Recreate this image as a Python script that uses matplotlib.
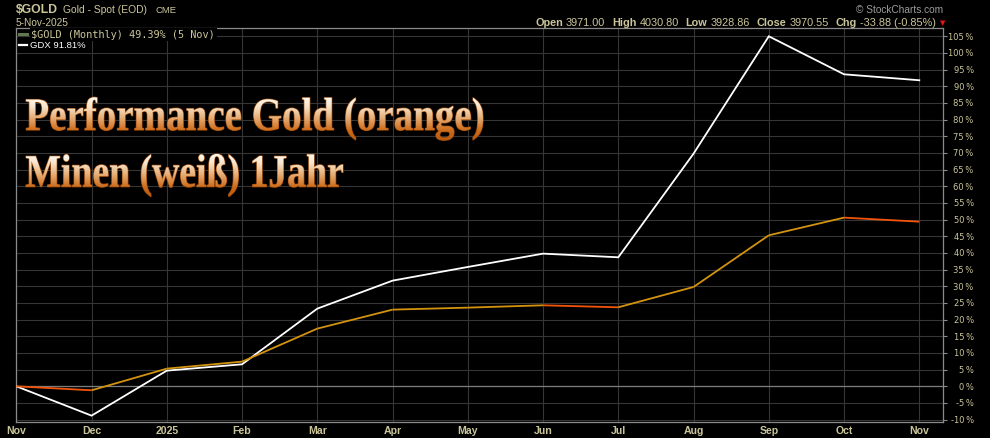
import numpy as np
import matplotlib
matplotlib.use("Agg")
import matplotlib.pyplot as plt
from matplotlib.patheffects import AbstractPathEffect
from matplotlib.transforms import Affine2D, TransformedPath
from matplotlib.lines import Line2D

# ---------------- data ----------------
months = ['Nov', 'Dec', '2025', 'Feb', 'Mar', 'Apr', 'May', 'Jun', 'Jul', 'Aug', 'Sep', 'Oct', 'Nov']
gold = [0.0, -1.2, 5.3, 7.4, 17.3, 23.0, 23.6, 24.3, 23.7, 29.8, 45.3, 50.6, 49.39]
gdx = [0.0, -8.8, 4.7, 6.6, 23.3, 31.7, 35.8, 39.8, 38.7, 69.8, 105.0, 93.6, 91.81]
y_ticks = list(range(-10, 110, 5))
y_labels = [f"{v}\u2009%" for v in y_ticks]
title_lines = ['Performance Gold (orange)', 'Minen (weiß) 1Jahr']
hdr_labels = ['Open', 'High', 'Low', 'Close', 'Chg']
hdr_values = ['3971.00', '4030.80', '3928.86', '3970.55', '-33.88 (-0.85%)']

# ---------------- style ----------------
W, H = 990, 438
KHAKI = '#cbc69a'
GRID = '#363636'
FRAME = '#8a8a8a'
UP = '#d4930f'
DOWN = '#f2540a'


def fx(x):
    return x / W


def fy(y):
    return 1 - y / H


class GradientText(AbstractPathEffect):
    """Fill text glyphs with a vertical gradient, squeezed to a target width."""

    def __init__(self, xfrac, wfrac, pos, cols, edge='#9a4806', edge_lw=0.9):
        super().__init__()
        self.xfrac, self.wfrac = xfrac, wfrac
        self.pos = pos
        self.cols = np.array(cols, float)
        self.edge, self.edge_lw = edge, edge_lw

    def draw_path(self, renderer, gc, tpath, affine, rgbFace=None):
        ext0 = tpath.get_extents(affine)
        fw = renderer.width
        sx = self.wfrac * fw / ext0.width
        aff = affine + Affine2D().translate(-ext0.x0, 0).scale(sx, 1).translate(self.xfrac * fw, 0)
        bx, by = affine.transform((0.0, 0.0))
        ext = tpath.get_extents(aff)
        # outline
        g1 = renderer.new_gc()
        g1.copy_properties(gc)
        g1.set_linewidth(self.edge_lw)
        g1.set_foreground(self.edge)
        renderer.draw_path(g1, tpath, aff, None)
        g1.restore()
        # gradient (row 0 = bottom in display space)
        x0 = int(np.floor(ext.x0)) - 2
        x1 = int(np.ceil(ext.x1)) + 2
        y0 = int(np.floor(ext.y0)) - 2
        y1 = int(np.ceil(ext.y1)) + 2
        h, w = y1 - y0, x1 - x0
        rows_y = y0 + np.arange(h) + 0.5
        t = (ext.y1 - rows_y) / (ext.y1 - by)
        rgb = np.stack([np.interp(t, self.pos, self.cols[:, k]) for k in range(3)], axis=1)
        img = np.empty((h, w, 4), np.uint8)
        img[..., :3] = rgb[:, None, :].astype(np.uint8)
        img[..., 3] = 255
        g2 = renderer.new_gc()
        g2.copy_properties(gc)
        g2.set_clip_path(TransformedPath(tpath, aff))
        renderer.draw_image(g2, x0, y0, np.ascontiguousarray(img))
        g2.restore()


fig = plt.figure(figsize=(W / 100, H / 100), dpi=100, facecolor='black')
L, R, T, B = 16.3, 943.3, 28.3, 421.7
ax = fig.add_axes([fx(L), fy(B), (R - L) / W, (B - T) / H])
ax.set_facecolor('black')

x = np.arange(len(months))
ax.set_xlim(0, (R - L) / 75.25)
ax.set_ylim(-10.62, 107.4)

# grid
ax.set_yticks(y_ticks)
ax.set_yticklabels(y_labels)
ax.set_xticks(x)
ax.set_xticklabels(months)
ax.grid(True, color=GRID, lw=0.8, zorder=0)
ax.set_axisbelow(True)
ax.axhline(0, color='#7c7c7c', lw=0.9, zorder=1)

for s in ax.spines.values():
    s.set_color(FRAME)
    s.set_linewidth(0.9)

ax.yaxis.tick_right()
ax.tick_params(axis='y', colors=FRAME, labelcolor=KHAKI, length=2.7, width=0.8,
               labelsize=6, pad=19.2)
for lab in ax.get_yticklabels():
    lab.set_horizontalalignment('right')
    lab.set_family('DejaVu Sans')
ax.tick_params(axis='x', length=0, labelcolor=KHAKI, labelsize=7.6, pad=2.8)
for lab in ax.get_xticklabels():
    lab.set_family('Liberation Sans')
    lab.set_fontweight('bold')

# lines
ax.plot(x, gdx, color='white', lw=1.3, zorder=3, solid_joinstyle='miter')
for i in range(len(gold) - 1):
    c = UP if gold[i + 1] >= gold[i] else DOWN
    ax.plot(x[i:i + 2], gold[i:i + 2], color=c, lw=1.3, zorder=4, solid_capstyle='butt')

# ---------------- header ----------------
fig.text(fx(16), fy(12.7), '$GOLD', color=KHAKI, fontsize=8.8, weight='bold',
         family='Liberation Sans', va='baseline')
fig.text(fx(63), fy(12.7), 'Gold - Spot (EOD)', color=KHAKI, fontsize=7.4,
         family='Liberation Sans', va='baseline')
fig.text(fx(155), fy(12.7), 'CME', color=KHAKI, fontsize=6.8,
         family='Liberation Sans', va='baseline')
fig.text(fx(16), fy(25.7), '5-Nov-2025', color=KHAKI, fontsize=7.3,
         family='Liberation Sans', va='baseline')
fig.text(fx(943), fy(12.7), '\u00a9 StockCharts.com', color='#9c9c9c', fontsize=7.3,
         family='Liberation Sans', va='baseline', ha='right')

prev = fig.text(fx(535), fy(26), hdr_labels[0], color=KHAKI, fontsize=7.8, weight='bold',
                family='Liberation Sans', va='baseline')
for i, (lb, val) in enumerate(zip(hdr_labels, hdr_values)):
    if i > 0:
        prev = ax.annotate(lb, xy=(1, 0), xycoords=prev, xytext=(5, 0), textcoords='offset points',
                           color=KHAKI, fontsize=7.8, weight='bold', family='Liberation Sans',
                           va='bottom', annotation_clip=False)
    prev = ax.annotate(val, xy=(1, 0), xycoords=prev, xytext=(2.2, 0), textcoords='offset points',
                       color=KHAKI, fontsize=7.8, family='Liberation Sans', va='bottom',
                       annotation_clip=False)
ax.annotate('\u25bc', xy=(1, 0), xycoords=prev, xytext=(3, 1.2), textcoords='offset points',
            color='#e8141e', fontsize=5, family='DejaVu Sans', va='bottom', annotation_clip=False)

# ---------------- legend ----------------
fig.text(fx(31.5), fy(37.7), f'$GOLD (Monthly) {gold[-1]:.2f}% (5 Nov)', color=KHAKI,
         fontsize=7.4, family='DejaVu Sans Mono', va='baseline',
         bbox=dict(facecolor='black', edgecolor='none', pad=1.2))
fig.text(fx(30), fy(48.3), f'GDX {gdx[-1]:.2f}%', color='white', fontsize=6.8,
         family='Liberation Sans', va='baseline',
         bbox=dict(facecolor='black', edgecolor='none', pad=0.8))
fig.add_artist(Line2D([fx(19), fx(27)], [fy(33.5), fy(33.5)], color='#64784e', lw=2.2))
fig.add_artist(Line2D([fx(19), fx(27)], [fy(45.3), fy(45.3)], color='white', lw=1.6))

# ---------------- title ----------------
pos = [0.0, 0.3, 0.62, 1.0, 1.5]
cols = [(255, 251, 242), (246, 226, 200), (230, 175, 120), (205, 108, 28), (170, 80, 12)]
for line, base, x0p, x1p in [(title_lines[0], 130, 26, 483), (title_lines[1], 186.7, 26, 343)]:
    fig.text(fx(x0p), fy(base), line, fontsize=33.5, family='Liberation Serif', weight='bold',
             color='#e0a060', va='baseline', ha='left',
             path_effects=[GradientText(fx(x0p), (x1p - x0p) / W, pos, cols)])

fig.savefig('out.png', dpi=100, facecolor='black')
